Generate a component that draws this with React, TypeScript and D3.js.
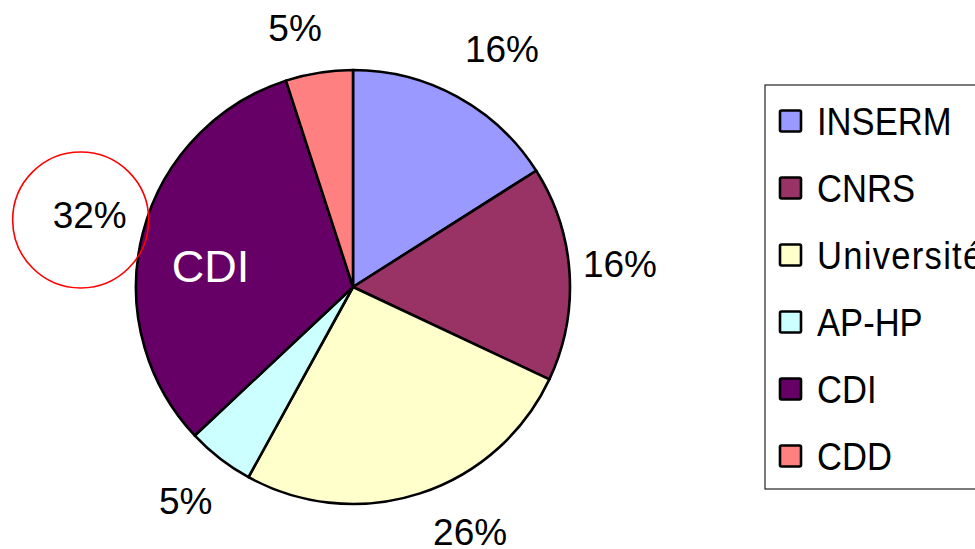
import React from "react";
import * as d3 from "d3";

const categories = ["INSERM", "CNRS", "Université", "AP-HP", "CDI", "CDD"];
const shares = [16, 16, 26, 5, 32, 5];
const percentLabels = ["16%", "16%", "26%", "5%", "32%", "5%"];
const colors = ["#9999FF", "#993366", "#FFFFCC", "#CCFFFF", "#660066", "#FF8080"];

// layout
const W = 975;
const H = 549;
const CX = 353;
const CY = 287;
const R = 217;
const LABEL_R = 272;
const labelAngleShiftDeg = [3.2, -1.5, -7.6, 0.3, 0.9, -3.6];
const labelRadiusShift = [9, -4, -1, -1, 1, -6.5];
const FONT = "'Liberation Sans', Arial, Helvetica, sans-serif";

export default function App() {
  const pie = d3
    .pie<number>()
    .sort(null)
    .value((d) => d)(shares);
  const arc = d3.arc<d3.PieArcDatum<number>>().innerRadius(0).outerRadius(R);

  const polar = (angle: number, r: number) => [
    Math.sin(angle) * r,
    -Math.cos(angle) * r,
  ];

  const labelPos = (i: number) => {
    const p = pie[i];
    const mid =
      (p.startAngle + p.endAngle) / 2 + (labelAngleShiftDeg[i] * Math.PI) / 180;
    return polar(mid, LABEL_R + labelRadiusShift[i]);
  };

  const cdiIndex = categories.indexOf("CDI");

  const legendX = 765;
  const legendY = 85;
  const rowY = d3
    .scalePoint<string>()
    .domain(categories)
    .range([121, 456]);

  return (
    <svg
      width={W}
      height={H}
      style={{ position: "absolute", left: 0, top: 0, background: "#fff" }}
      fontFamily={FONT}
    >
      <rect x={0} y={0} width={W} height={H} fill="#fff" />
      <g transform={`translate(${CX},${CY})`}>
        {pie.map((p, i) => (
          <path
            key={categories[i]}
            d={arc(p) || ""}
            fill={colors[i]}
            stroke="#000"
            strokeWidth={2.6}
            strokeLinejoin="round"
          />
        ))}
        {pie.map((p, i) => {
          const [x, y] = labelPos(i);
          return (
            <text
              key={"l" + i}
              x={x}
              y={y}
              dy="0.36em"
              textAnchor="middle"
              fontSize={37}
              fill="#000"
            >
              {percentLabels[i]}
            </text>
          );
        })}
        {(() => {
          const p = pie[cdiIndex];
          const mid = (p.startAngle + p.endAngle) / 2 - (6 * Math.PI) / 180;
          const [x, y] = polar(mid, 144);
          const [lx, ly] = labelPos(cdiIndex);
          return (
            <g>
              <text
                x={x}
                y={y}
                dy="0.36em"
                textAnchor="middle"
                fontSize={45}
                fill="#fff"
              >
                {categories[cdiIndex]}
              </text>
              <circle
                cx={lx - 9}
                cy={ly + 5}
                r={68}
                fill="none"
                stroke="#ff0000"
                strokeWidth={1.6}
              />
            </g>
          );
        })()}
      </g>
      <g>
        <rect
          x={legendX}
          y={legendY}
          width={300}
          height={404}
          fill="#fff"
          stroke="#222"
          strokeWidth={1.2}
        />
        {categories.map((c, i) => {
          const cy = rowY(c) as number;
          return (
            <g key={"lg" + c}>
              <rect
                x={780}
                y={cy - 10.5}
                width={21}
                height={21}
                rx={1.5}
                fill={colors[i]}
                stroke="#000"
                strokeWidth={2.6}
              />
              <text
                transform={`translate(817,${cy}) scale(0.91,1)`}
                dy="0.36em"
                fontSize={38}
                fill="#000"
                letterSpacing={c === "Université" ? 1.4 : 0}
              >
                {c}
              </text>
            </g>
          );
        })}
      </g>
    </svg>
  );
}
